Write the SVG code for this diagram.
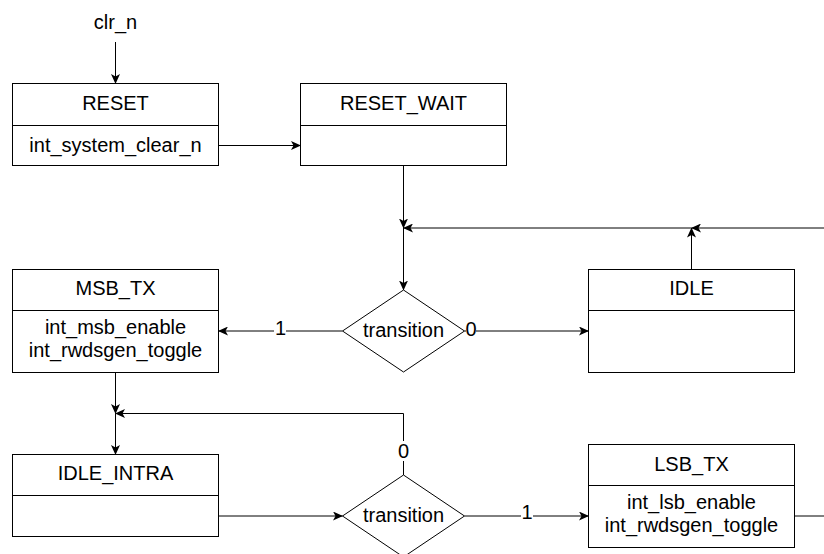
<svg xmlns="http://www.w3.org/2000/svg" width="824" height="554" viewBox="0 0 824 554">
<style>
  .box{fill:#fff;stroke:#000;stroke-width:1}
  .t{font-family:"Liberation Sans",Arial,Helvetica,sans-serif;font-size:20px;fill:#000;text-anchor:middle}
  .c{fill:none;stroke:#000;stroke-width:1}
  .lbl{fill:#fff;stroke:none}
</style>
<defs>
  <marker id="arr" viewBox="0 0 10 9" refX="9.5" refY="4.5" markerWidth="10" markerHeight="9" markerUnits="userSpaceOnUse" orient="auto">
    <path d="M0,0 L10,4.5 L0,9 L2.5,4.5 Z" fill="#000"/>
  </marker>
</defs>
<rect width="824" height="554" fill="#fff"/>

<g id="connectors">
  <path class="c" d="M115.5,42 V83.5" marker-end="url(#arr)"/>
  <path class="c" d="M218.5,145.5 H300.5" marker-end="url(#arr)"/>
  <path class="c" d="M403.5,166 V228" marker-end="url(#arr)"/>
  <path class="c" d="M403.5,228 V290" marker-end="url(#arr)"/>
  <path class="c" d="M824,228 H691.5" marker-end="url(#arr)"/>
  <path class="c" d="M691.5,228 H403.5" marker-end="url(#arr)"/>
  <path class="c" d="M691.5,269.5 V228" marker-end="url(#arr)"/>
  <path class="c" d="M342.5,331 H218.5" marker-end="url(#arr)"/>
  <path class="c" d="M464.5,331 H588.5" marker-end="url(#arr)"/>
  <path class="c" d="M115.5,372.5 V413.5" marker-end="url(#arr)"/>
  <path class="c" d="M115.5,413.5 V454.5" marker-end="url(#arr)"/>
  <path class="c" d="M403.5,475 V413.5 H115.5" marker-end="url(#arr)"/>
  <path class="c" d="M218.5,516 H342.5" marker-end="url(#arr)"/>
  <path class="c" d="M464.5,516 H588.5" marker-end="url(#arr)"/>
  <path class="c" d="M794.5,516 H824"/>
  <rect class="lbl" x="274" y="320" width="12" height="20"/>
  <text class="t" x="280.5" y="335">1</text>
  <rect class="lbl" x="466" y="320" width="10" height="20"/>
  <text class="t" x="471" y="336">0</text>
  <rect class="lbl" x="397" y="441" width="13" height="20"/>
  <text class="t" x="403.5" y="458">0</text>
  <rect class="lbl" x="521" y="505" width="12" height="20"/>
  <text class="t" x="527" y="519">1</text>
</g>

<g id="clr_n">
  <text class="t" x="115.5" y="29">clr_n</text>
</g>

<g id="RESET">
  <rect class="box" x="12.5" y="83.5" width="206" height="82"/>
  <path class="c" d="M12.5,125.5 H218.5"/>
  <text class="t" x="115.5" y="109.5">RESET</text>
  <text class="t" x="115.5" y="152">int_system_clear_n</text>
</g>

<g id="RESET_WAIT">
  <rect class="box" x="300.5" y="83.5" width="206" height="82"/>
  <path class="c" d="M300.5,125.5 H506.5"/>
  <text class="t" x="403.5" y="109.5">RESET_WAIT</text>
</g>

<g id="transition1">
  <path class="box" d="M403.5,290 L464.5,331 L403.5,372 L342.5,331 Z"/>
  <text class="t" x="403.5" y="337">transition</text>
</g>

<g id="IDLE">
  <rect class="box" x="588.5" y="269.5" width="206" height="103"/>
  <path class="c" d="M588.5,310.5 H794.5"/>
  <text class="t" x="691.5" y="295">IDLE</text>
</g>

<g id="MSB_TX">
  <rect class="box" x="12.5" y="269.5" width="206" height="103"/>
  <path class="c" d="M12.5,310.5 H218.5"/>
  <text class="t" x="115.5" y="295">MSB_TX</text>
  <text class="t" x="115.5" y="333.5">int_msb_enable</text>
  <text class="t" x="115.5" y="357">int_rwdsgen_toggle</text>
</g>

<g id="IDLE_INTRA">
  <rect class="box" x="12.5" y="454.5" width="206" height="82"/>
  <path class="c" d="M12.5,495.5 H218.5"/>
  <text class="t" x="115.5" y="480">IDLE_INTRA</text>
</g>

<g id="transition2">
  <path class="box" d="M403.5,475 L464.5,516 L403.5,557 L342.5,516 Z"/>
  <text class="t" x="403.5" y="522">transition</text>
</g>

<g id="LSB_TX">
  <rect class="box" x="588.5" y="444.5" width="206" height="103"/>
  <path class="c" d="M588.5,485.5 H794.5"/>
  <text class="t" x="691.5" y="470.5">LSB_TX</text>
  <text class="t" x="691.5" y="509">int_lsb_enable</text>
  <text class="t" x="691.5" y="532">int_rwdsgen_toggle</text>
</g>
</svg>
